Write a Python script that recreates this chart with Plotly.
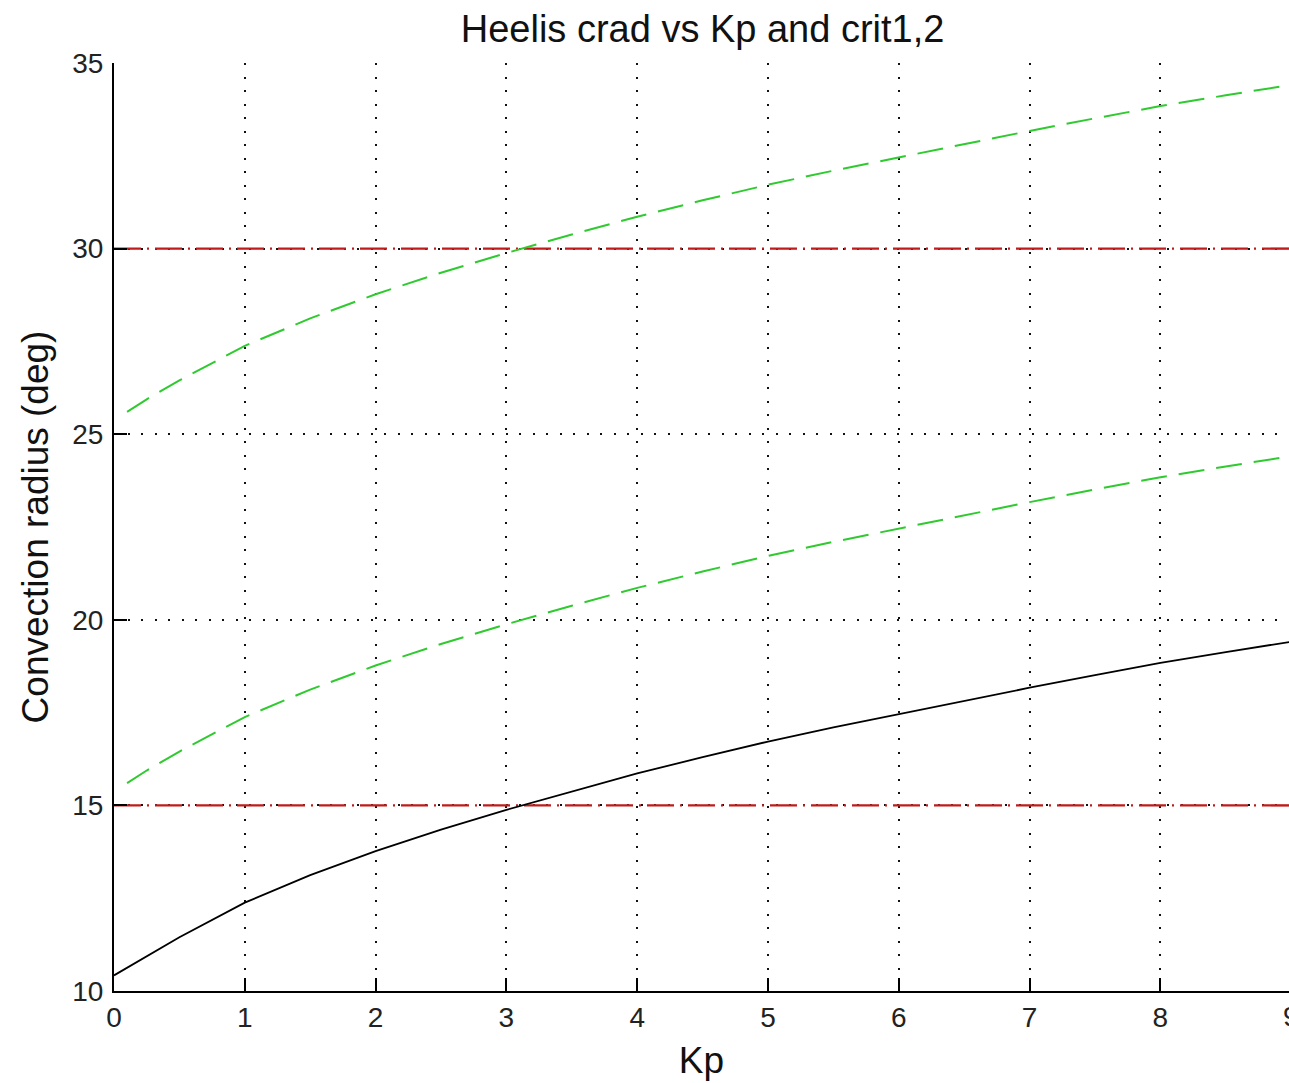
import plotly.graph_objects as go

# Kp values
kp = [0, 0.25, 0.5, 1, 1.5, 2, 2.5, 3, 3.5, 4, 4.5, 5, 5.5, 6, 6.5, 7, 7.5, 8, 8.5, 9]
# Heelis convection radius (black)
crad = [10.42, 10.94, 11.45, 12.38, 13.12, 13.77, 14.35, 14.88, 15.38, 15.86, 16.30,
        16.72, 17.10, 17.46, 17.82, 18.17, 18.51, 18.84, 19.13, 19.41]

# green dashed curves (start slightly after Kp = 0)
kp_g = [0.1, 0.25, 0.5, 1, 1.5, 2, 2.5, 3, 3.5, 4, 4.5, 5, 5.5, 6, 6.5, 7, 7.5, 8, 8.5, 9]
crad_lo = [15.60, 15.94, 16.45, 17.38, 18.12, 18.77, 19.35, 19.88, 20.38, 20.86, 21.30,
           21.72, 22.10, 22.46, 22.82, 23.17, 23.51, 23.84, 24.13, 24.41]
crad_hi = [25.60, 25.94, 26.45, 27.38, 28.12, 28.77, 29.35, 29.88, 30.38, 30.86, 31.30,
           31.72, 32.10, 32.46, 32.82, 33.17, 33.51, 33.84, 34.13, 34.41]

# critical levels (red dash-dot)
crit_x = [0, 9]
crit1 = [15, 15]
crit2 = [30, 30]

x_ticks = [0, 1, 2, 3, 4, 5, 6, 7, 8, 9]
y_ticks = [10, 15, 20, 25, 30, 35]

FONT = "Liberation Sans, Arial, Helvetica, sans-serif"
RED = "#bf1b1b"
GREEN = "#2fca2f"

fig = go.Figure()
for cy in (crit1, crit2):
    fig.add_trace(go.Scatter(x=crit_x, y=cy, mode="lines",
                             line=dict(color=RED, width=2.4, dash="27px,6px,2px,6px"),
                             showlegend=False, hoverinfo="skip"))
for gy in (crad_lo, crad_hi):
    fig.add_trace(go.Scatter(x=kp_g, y=gy, mode="lines",
                             line=dict(color=GREEN, width=2, dash="26px,12px"),
                             showlegend=False))
fig.add_trace(go.Scatter(x=kp, y=crad, mode="lines",
                         line=dict(color="black", width=1.8),
                         showlegend=False))

L, R, T, B = 114, 0, 63, 92
W, H = 1289, 1083
px_per_unit = 130.8
xmax = (W - L - R) / px_per_unit

fig.update_layout(
    width=W, height=H,
    margin=dict(l=L, r=R, t=T, b=B, pad=0),
    paper_bgcolor="white", plot_bgcolor="white",
    font=dict(family=FONT, color="black"),
    title=dict(text="Heelis crad vs Kp and crit1,2", x=(L + (9 * px_per_unit) / 2) / W,
               xanchor="center", y=1 - 29 / H, yanchor="middle",
               font=dict(size=38, family=FONT, color="#111")),
    xaxis=dict(range=[0, xmax], tickvals=x_ticks, ticktext=[str(v) for v in x_ticks],
               showline=True, linecolor="black", linewidth=2, mirror=False,
               ticks="inside", ticklen=13, tickwidth=2, tickcolor="black",
               showgrid=True, gridcolor="#111", gridwidth=2, griddash="2px,11.5px",
               zeroline=False, tickfont=dict(size=28, family=FONT, color="#222"),
               title=dict(text="Kp", font=dict(size=37, family=FONT, color="#111"), standoff=16)),
    yaxis=dict(range=[10, 35], tickvals=y_ticks,
               showline=True, linecolor="black", linewidth=2, mirror=False,
               ticks="inside", ticklen=13, tickwidth=2, tickcolor="black",
               showgrid=True, gridcolor="#111", gridwidth=2, griddash="2px,11.5px",
               zeroline=False, tickfont=dict(size=28, family=FONT, color="#222"),
               ticklabelstandoff=3,
               title=dict(text="Convection radius (deg)",
                          font=dict(size=37, family=FONT, color="#111"), standoff=12)),
)

# the last tick label '9' sits at the clipped right edge of the picture (as in the reference)
fig.add_annotation(x=9 / xmax, y=0, xref="paper", yref="paper", text="9", showarrow=False,
                   xanchor="center", yanchor="top", yshift=-8,
                   font=dict(size=28, family=FONT, color="#222"))

fig.write_html("out.html")
